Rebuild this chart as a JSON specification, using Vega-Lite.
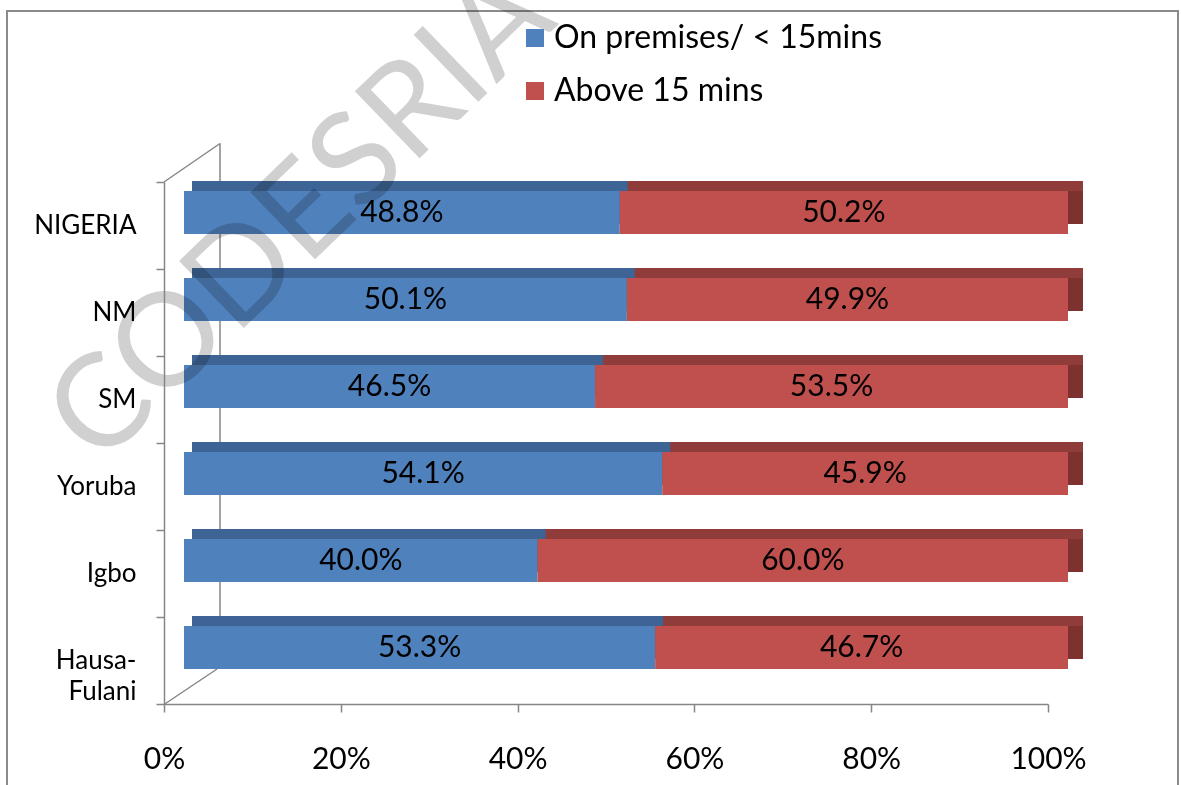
{
  "$schema": "https://vega.github.io/schema/vega-lite/v6.json",
  "autosize": "none",
  "width": 884,
  "height": 522,
  "padding": {"left": 164, "top": 182, "right": 133, "bottom": 81},
  "background": "white",
  "config": {
    "view": {"stroke": null},
    "font": "Lato",
    "axis": {
      "domainColor": "#868686",
      "tickColor": "#868686",
      "domainWidth": 1.5,
      "tickWidth": 1.5,
      "tickSize": 8,
      "labelColor": "#000000",
      "labelFont": "Lato",
      "labelFlush": false,
      "labelOverlap": false,
      "grid": false,
      "title": null
    }
  },
  "data": {
    "values": [
      {"region": "NIGERIA", "group": "On premises/ < 15mins", "pct": 0.488},
      {"region": "NIGERIA", "group": "Above 15 mins", "pct": 0.502},
      {"region": "NM", "group": "On premises/ < 15mins", "pct": 0.501},
      {"region": "NM", "group": "Above 15 mins", "pct": 0.499},
      {"region": "SM", "group": "On premises/ < 15mins", "pct": 0.465},
      {"region": "SM", "group": "Above 15 mins", "pct": 0.535},
      {"region": "Yoruba", "group": "On premises/ < 15mins", "pct": 0.541},
      {"region": "Yoruba", "group": "Above 15 mins", "pct": 0.459},
      {"region": "Igbo", "group": "On premises/ < 15mins", "pct": 0.400},
      {"region": "Igbo", "group": "Above 15 mins", "pct": 0.600},
      {"region": "Hausa-Fulani", "group": "On premises/ < 15mins", "pct": 0.533},
      {"region": "Hausa-Fulani", "group": "Above 15 mins", "pct": 0.467}
    ]
  },
  "transform": [
    {
      "stack": "pct",
      "groupby": ["region"],
      "offset": "normalize",
      "sort": [{"field": "group", "order": "descending"}],
      "as": ["x0", "x1"]
    },
    {"calculate": "(datum.x0 + datum.x1) / 2", "as": "xmid"}
  ],
  "layer": [
    {
      "transform": [{"filter": "datum.region === 'NIGERIA' && datum.group === 'Above 15 mins'"}],
      "mark": {"type": "rect", "fill": null, "stroke": "#8a8a8a", "strokeWidth": 2, "xOffset": -157, "x2Offset": 130, "yOffset": -214.5, "y2Offset": 140},
      "encoding": {
        "x": {"datum": 0, "type": "quantitative", "scale": {"domain": [0, 1], "nice": false}},
        "x2": {"datum": 1},
        "y": {"datum": "NIGERIA", "type": "nominal", "scale": {"type": "band", "domain": ["NIGERIA", "NM", "SM", "Yoruba", "Igbo", "Hausa-Fulani"], "paddingInner": 0, "paddingOuter": 0}},
        "y2": {"datum": "Hausa-Fulani"}
      }
    },
    {
      "transform": [{"filter": "datum.region === 'NIGERIA' && datum.group === 'Above 15 mins'"}],
      "mark": {"type": "rule", "color": "#868686", "strokeWidth": 1.5, "xOffset": 56, "x2Offset": 56, "yOffset": -82, "y2Offset": 8},
      "encoding": {
        "x": {"datum": 0, "type": "quantitative"},
        "x2": {"datum": 0},
        "y": {"datum": "NIGERIA", "type": "nominal"},
        "y2": {"datum": "Hausa-Fulani"}
      }
    },
    {
      "transform": [{"filter": "datum.region === 'NIGERIA' && datum.group === 'Above 15 mins'"}],
      "mark": {"type": "rule", "color": "#868686", "strokeWidth": 1.5, "x2Offset": 56, "yOffset": -43.5, "y2Offset": -82},
      "encoding": {
        "x": {"datum": 0, "type": "quantitative"},
        "x2": {"datum": 0},
        "y": {"datum": "NIGERIA", "type": "nominal"},
        "y2": {"datum": "NIGERIA"}
      }
    },
    {
      "transform": [{"filter": "datum.region === 'NIGERIA' && datum.group === 'Above 15 mins'"}],
      "mark": {"type": "rule", "color": "#868686", "strokeWidth": 1.5, "x2Offset": 53, "yOffset": 44, "y2Offset": 8.5},
      "encoding": {
        "x": {"datum": 0, "type": "quantitative"},
        "x2": {"datum": 0},
        "y": {"datum": "Hausa-Fulani", "type": "nominal"},
        "y2": {"datum": "Hausa-Fulani"}
      }
    },
    {
      "mark": {"type": "bar", "height": 43, "xOffset": 35, "x2Offset": 35, "yOffset": -23},
      "encoding": {
        "x": {"field": "x0", "type": "quantitative"},
        "x2": {"field": "x1"},
        "y": {"field": "region", "type": "nominal"},
        "color": {"condition": {"test": "datum.group === 'Above 15 mins'", "value": "#7E3230"}, "value": "#3A5E8C"}
      }
    },
    {
      "mark": {"type": "bar", "height": 10, "xOffset": 28, "x2Offset": 35, "yOffset": -39.5},
      "encoding": {
        "x": {"field": "x0", "type": "quantitative"},
        "x2": {"field": "x1"},
        "y": {"field": "region", "type": "nominal"},
        "color": {"condition": {"test": "datum.group === 'Above 15 mins'", "value": "#8F3C3A"}, "value": "#3D6494"}
      }
    },
    {
      "mark": {"type": "bar", "height": 43, "xOffset": 20, "x2Offset": 20, "yOffset": -13},
      "encoding": {
        "x": {
          "field": "x0",
          "type": "quantitative",
          "axis": {
            "values": [0, 0.2, 0.4, 0.6, 0.8, 1],
            "format": ".0%",
            "labelFontSize": 30,
            "labelPadding": 32
          }
        },
        "x2": {"field": "x1"},
        "y": {
          "field": "region",
          "type": "nominal",
          "axis": {
            "tickBand": "extent",
            "labelFontSize": 26,
            "labelPadding": 20,
            "labelLineHeight": 31,
            "labelExpr": "datum.value === 'Hausa-Fulani' ? ['Hausa-', 'Fulani'] : datum.value"
          }
        },
        "color": {
          "field": "group",
          "type": "nominal",
          "scale": {"domain": ["On premises/ < 15mins", "Above 15 mins"], "range": ["#4F81BD", "#C0504D"]},
          "legend": {
            "title": null,
            "orient": "none",
            "legendX": 355,
            "legendY": -160,
            "symbolType": "square",
            "symbolSize": 324,
            "symbolStrokeWidth": 0,
            "labelFontSize": 32,
            "labelFont": "Lato",
            "labelColor": "#000000",
            "labelOffset": 3,
            "rowPadding": 21,
            "labelLimit": 500
          }
        }
      }
    },
    {
      "transform": [{"filter": "datum.region === 'NIGERIA' && datum.group === 'Above 15 mins'"}],
      "mark": {"type": "text", "fontSize": 130, "font": "Lato", "angle": -44, "align": "center", "baseline": "middle", "color": "#d0d0d0", "blend": "multiply", "yOffset": -8, "xOffset": 2},
      "encoding": {
        "x": {"datum": 0.154, "type": "quantitative"},
        "y": {"datum": "NIGERIA", "type": "nominal"},
        "text": {"value": "CODESRIA"}
      }
    },
    {
      "mark": {"type": "text", "fontSize": 30, "font": "Lato", "color": "#000000", "xOffset": 20, "yOffset": -13, "align": "center", "baseline": "middle"},
      "encoding": {
        "x": {"field": "xmid", "type": "quantitative"},
        "y": {"field": "region", "type": "nominal"},
        "text": {"field": "pct", "type": "quantitative", "format": ".1%"}
      }
    }
  ]
}
